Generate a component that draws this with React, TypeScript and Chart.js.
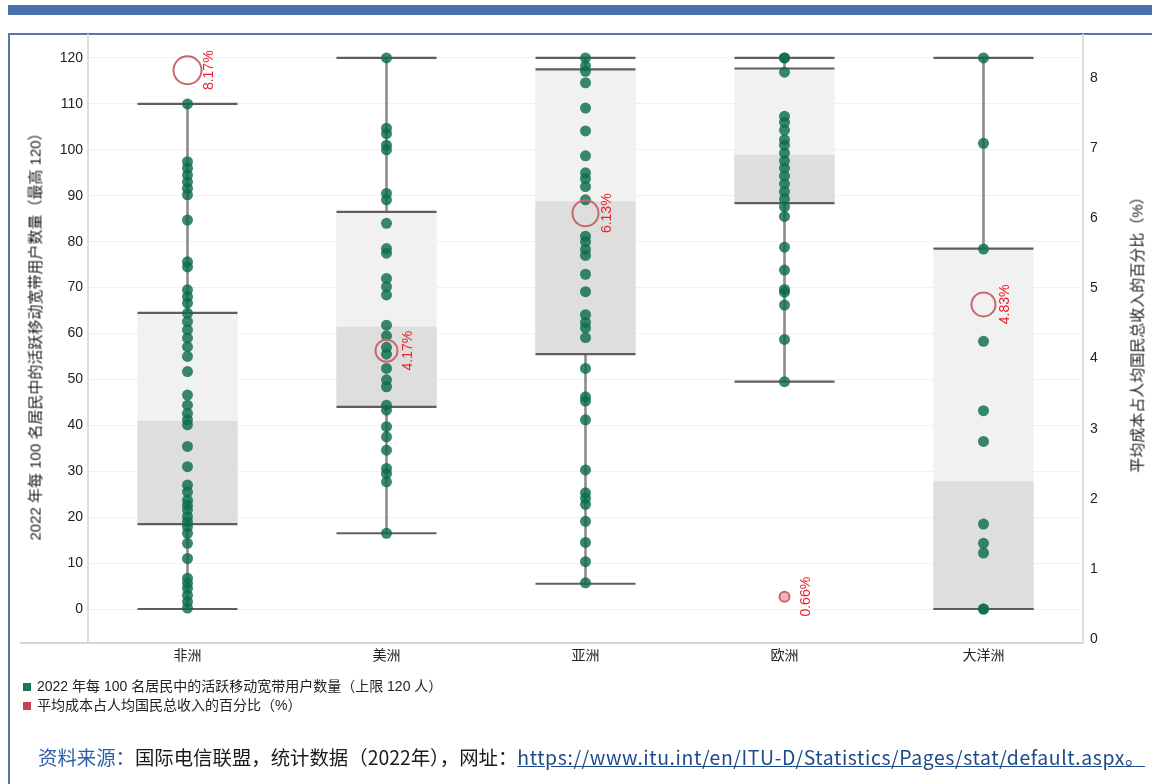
import React, { useEffect, useRef } from 'react';
import { Chart, registerables } from 'chart.js';

Chart.register(...registerables);

// ---- data ----
const categories = ['非洲', '美洲', '亚洲', '欧洲', '大洋洲'];
const whiskerLow = [0, 16.5, 5.5, 49.5, 0];
const quartile1 = [18.5, 44, 55.5, 88.4, 0];
const medianValues = [41, 61.5, 88.8, 98.9, 27.8];
const quartile3 = [64.5, 86.5, 117.5, 117.7, 78.5];
const whiskerHigh = [110, 120, 120, 120, 120];

const africaDots = [110, 97.4, 96, 94.5, 93, 91.6, 90.2, 84.7, 75.6, 74.5, 69.5, 68, 66.6, 64.4, 62.6, 60.8, 59, 57.1, 55, 51.7, 46.6, 44.4, 42.6, 41.2, 40.1, 35.4, 31, 27, 25.5, 23.7, 22.6, 21.6, 20.1, 19, 17.9, 16.5, 14.3, 11, 6.7, 5.6, 4.5, 3, 1.6, 0.2];
const americasDots = [120, 104.7, 103.5, 101, 100, 90.5, 89.1, 84, 78.5, 77.5, 72, 70.2, 68.4, 61.8, 59.5, 57, 55.5, 52.4, 49.9, 48.4, 44.4, 43.3, 39.7, 37.5, 34.6, 30.6, 29.5, 27.7, 16.5];
const asiaDots = [120, 118.3, 117.1, 114.6, 109.1, 104.1, 98.7, 95, 93.7, 92, 89.1, 81.2, 80, 78.3, 77, 72.9, 69.1, 64.1, 62.4, 61.2, 59.1, 52.4, 46.2, 45.3, 41.2, 30.3, 25.3, 24.1, 22.8, 19.1, 14.5, 10.3, 5.7];
const europeDots = [120, 120, 116.9, 107.3, 106, 104.3, 102.2, 101, 99.3, 97.6, 96, 94.3, 92.6, 90.9, 89.3, 87.6, 85.5, 78.8, 73.8, 69.6, 69, 66.2, 58.7, 49.5];
const oceaniaDots = [120, 101.4, 78.4, 58.3, 43.2, 36.5, 18.5, 14.3, 12.2, 0, 0];
const regionDots = [africaDots, americasDots, asiaDots, europeDots, oceaniaDots];

const costPct = [8.17, 4.17, 6.13, 0.66, 4.83];

const leftTicks = [0, 10, 20, 30, 40, 50, 60, 70, 80, 90, 100, 110, 120];
const rightTicks = [0, 1, 2, 3, 4, 5, 6, 7, 8];

// ---- styles ----
const circleRadius = [14, 11, 13, 5, 12];
const FONT = '"Liberation Sans", "Noto Sans CJK SC", sans-serif';
const CJK = '"Noto Sans CJK SC", "Liberation Sans", sans-serif';

const labelPlugin = {
  id: 'extras',
  afterDatasetsDraw(chart: any) {
    const ctx = chart.ctx;
    const area = chart.chartArea;
    ctx.save();
    ctx.strokeStyle = '#d4d4d4';
    ctx.lineWidth = 2;
    ctx.beginPath();
    ctx.moveTo(20, area.bottom);
    ctx.lineTo(area.left, area.bottom);
    ctx.stroke();
    ctx.restore();

    const meta = chart.getDatasetMeta(0);
    meta.data.forEach((pt: any, i: number) => {
      ctx.save();
      ctx.translate(pt.x + 22, pt.y);
      ctx.rotate(-Math.PI / 2);
      ctx.textAlign = 'center';
      ctx.textBaseline = 'middle';
      ctx.fillStyle = '#e8232b';
      ctx.font = '14px ' + FONT;
      ctx.fillText(costPct[i].toFixed(2) + '%', 0, 0);
      ctx.restore();
    });
  },
};

const noPadV = (w: number) => (s: any) => { s.width = w; s.paddingTop = 0; s.paddingBottom = 0; };

function BoxChart() {
  const ref = useRef<HTMLCanvasElement | null>(null);
  useEffect(() => {
    if (!ref.current) return;
    const dotData = regionDots.flatMap((arr, i) => arr.map((v) => ({ x: categories[i], y: v })));
    const lineData = categories.flatMap((c, i) => [
      { x: c, y: whiskerLow[i] },
      { x: c, y: whiskerHigh[i] },
      { x: c, y: quartile1[i] },
      { x: c, y: quartile3[i] },
    ]);
    const chart = new Chart(ref.current, {
      type: 'bar',
      data: {
        labels: categories,
        datasets: [
          {
            type: 'line',
            label: '平均成本占人均国民总收入的百分比（%）',
            data: costPct.map((v, i) => ({ x: categories[i], y: v })),
            yAxisID: 'y2',
            showLine: false,
            pointRadius: circleRadius,
            pointBorderWidth: 2,
            pointBorderColor: '#c9676d',
            pointBackgroundColor: costPct.map((v) => (v < 1 ? 'rgba(201,103,109,0.45)' : 'rgba(0,0,0,0)')),
            order: 0,
          } as any,
          {
            type: 'line',
            label: '2022 年每 100 名居民中的活跃移动宽带用户数量（上限 120 人）',
            data: dotData,
            yAxisID: 'y',
            showLine: false,
            pointRadius: 5.5,
            pointBorderWidth: 0,
            pointBackgroundColor: 'rgba(14,108,78,0.82)',
            order: 1,
          } as any,
          {
            type: 'line',
            label: 'lines',
            data: lineData,
            yAxisID: 'y',
            showLine: false,
            pointStyle: 'line',
            pointRadius: 50,
            pointBorderWidth: 2.2,
            pointBorderColor: '#5e5e5e',
            order: 2,
          } as any,
          {
            label: 'lowerWhisker',
            data: categories.map((_, i) => [whiskerLow[i], quartile1[i]]),
            backgroundColor: '#8e8e8e',
            barThickness: 2,
            grouped: false,
            order: 3,
          } as any,
          {
            label: 'upperWhisker',
            data: categories.map((_, i) => [quartile3[i], whiskerHigh[i]]),
            backgroundColor: '#8e8e8e',
            barThickness: 2,
            grouped: false,
            order: 3,
          } as any,
          {
            label: 'lowerBox',
            data: categories.map((_, i) => [quartile1[i], medianValues[i]]),
            backgroundColor: '#dedede',
            barPercentage: 0.505,
            categoryPercentage: 1,
            grouped: false,
            order: 4,
          } as any,
          {
            label: 'upperBox',
            data: categories.map((_, i) => [medianValues[i], quartile3[i]]),
            backgroundColor: '#f1f1f1',
            barPercentage: 0.505,
            categoryPercentage: 1,
            grouped: false,
            order: 5,
          } as any,
        ],
      },
      options: {
        responsive: false,
        animation: false,
        devicePixelRatio: 1,
        events: [],
        layout: { autoPadding: false, padding: { top: 35, bottom: 111, left: 0, right: 0 } },
        plugins: { legend: { display: false }, tooltip: { enabled: false } },
        scales: {
          x: {
            type: 'category',
            grid: { display: false, drawTicks: false },
            border: { display: true, color: '#d4d4d4', width: 2 },
            ticks: { color: '#222', font: { size: 14, family: CJK }, padding: 3 },
            afterFit: (s: any) => { s.height = 30; s.paddingLeft = 0; s.paddingRight = 0; },
          },
          y: {
            position: 'left',
            min: -7.4,
            max: 125,
            afterBuildTicks: (s: any) => { s.ticks = leftTicks.map((v) => ({ value: v })); },
            grid: { color: '#f1f1f1', drawTicks: false },
            border: { display: true, color: '#dedede', width: 2 },
            ticks: { color: '#222', font: { size: 14, family: FONT }, padding: 5 },
            afterFit: noPadV(88),
          },
          y2: {
            position: 'right',
            min: 0,
            max: 8.673,
            afterBuildTicks: (s: any) => { s.ticks = rightTicks.map((v) => ({ value: v })); },
            grid: { display: false, drawTicks: false },
            border: { display: true, color: '#dedede', width: 2 },
            ticks: { color: '#222', font: { size: 14, family: FONT }, padding: 7, labelOffset: -4 },
            afterFit: noPadV(69),
          },
        },
      } as any,
      plugins: [labelPlugin],
    });
    return () => chart.destroy();
  }, []);
  return <canvas ref={ref} width={1152} height={784} style={{ position: 'absolute', left: 0, top: 0, width: 1152, height: 784 }} />;
}

export default function App() {
  return (
    <div style={{ position: 'absolute', left: 0, top: 0, width: 1152, height: 784, overflow: 'hidden', background: '#fff' }}>
      <div style={{ position: 'absolute', left: 8, top: 5, width: 1144, height: 10, background: '#4a70a9' }} />
      <div style={{ position: 'absolute', left: 8, top: 33, width: 1170, height: 780, border: '2px solid #5477ad', boxSizing: 'border-box' }} />
      <BoxChart />
      <div style={{ position: 'absolute', left: 34, top: 333, width: 0, height: 0 }}>
        <div style={{ position: 'absolute', transform: 'translate(-50%, -50%) rotate(-90deg)', whiteSpace: 'nowrap', font: '15px ' + FONT, color: '#1a1a1a' }}>
          2022 年每 100 名居民中的活跃移动宽带用户数量（最高 120）
        </div>
      </div>
      <div style={{ position: 'absolute', left: 1136, top: 331, width: 0, height: 0 }}>
        <div style={{ position: 'absolute', transform: 'translate(-50%, -50%) rotate(-90deg)', whiteSpace: 'nowrap', font: '15px ' + FONT, color: '#1a1a1a' }}>
          平均成本占人均国民总收入的百分比（%）
        </div>
      </div>
      <div style={{ position: 'absolute', left: 23, top: 677, font: '14px ' + FONT, color: '#222', lineHeight: '19px' }}>
        <div style={{ display: 'flex', alignItems: 'center' }}>
          <span style={{ display: 'inline-block', width: 8, height: 8, background: '#1c7656', marginRight: 6 }} />
          2022 年每 100 名居民中的活跃移动宽带用户数量（上限 120 人）
        </div>
        <div style={{ display: 'flex', alignItems: 'center' }}>
          <span style={{ display: 'inline-block', width: 8, height: 8, background: '#c8444c', marginRight: 6 }} />
          平均成本占人均国民总收入的百分比（%）
        </div>
      </div>
      <div style={{ position: 'absolute', left: 38, top: 742, font: '19.4px ' + CJK, color: '#1a1a1a', whiteSpace: 'nowrap' }}>
        <span style={{ color: '#2b5ea8' }}>资料来源：</span>
        国际电信联盟，统计数据（2022年），网址：
        <span style={{ color: '#1d4b8a', textDecoration: 'underline', letterSpacing: '0.6px' }}>https://www.itu.int/en/ITU-D/Statistics/Pages/stat/default.aspx。</span>
      </div>
    </div>
  );
}
